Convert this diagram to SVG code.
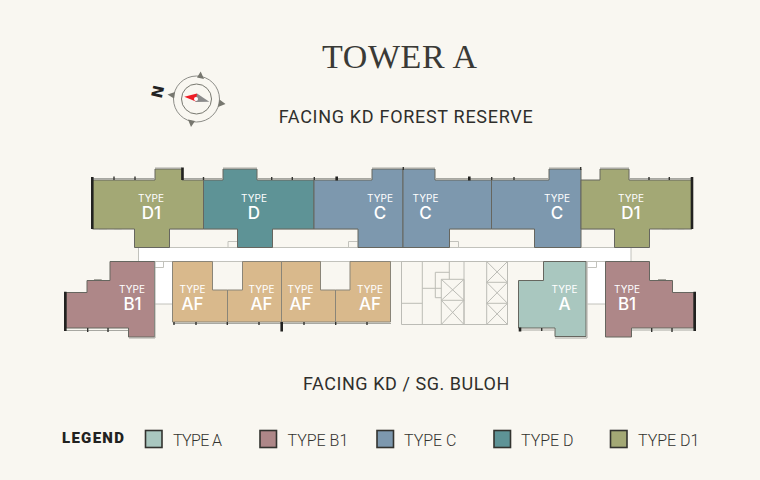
<svg xmlns="http://www.w3.org/2000/svg" width="760" height="480" viewBox="0 0 760 480">
<style>
.u{stroke:#66665f;stroke-width:1;stroke-linejoin:miter}
.d1{fill:#a3a875}.d{fill:#5e9396}.c{fill:#7d98ae}.b1{fill:#ae8788}.af{fill:#d9b98c;stroke:#8a8578}.a{fill:#a9c7bf}
.s{font-family:Inter,"Open Sans",sans-serif;fill:#fff;text-anchor:middle;font-weight:400;font-size:10px}
.l{font-family:Inter,"Open Sans",sans-serif;fill:#fff;text-anchor:middle;font-weight:500;font-size:17px}
.f{font-family:Roboto,"Liberation Sans",sans-serif;fill:#2f2f2c;font-size:18px;letter-spacing:.7px;text-anchor:middle}
.k{font-family:Roboto,"Liberation Sans",sans-serif;fill:#33332f;font-size:16px;font-weight:300}
.sw{stroke:#33332f;stroke-width:1.6}
.g{fill:none;stroke:#c2c2bc;stroke-width:1}
.w{fill:none;stroke:#a8a8a2;stroke-width:1}
.t{fill:none;stroke:#333330;stroke-width:1.4}
.T{fill:none;stroke:#222220;stroke-width:2.6}
.m{fill:none;stroke:#a8a8a0;stroke-width:1.2}
.x{fill:none;stroke:#bcbcb6;stroke-width:1}
</style>
<rect width="760" height="480" fill="#f9f7f1"/>
<text x="399.500" y="67.500" text-anchor="middle" font-family="'Liberation Serif',serif" font-size="34" fill="#3a3a36" textLength="155" lengthAdjust="spacing">TOWER A</text>
<text class="f" x="406" y="123">FACING KD FOREST RESERVE</text>
<text class="f" x="406.500" y="390" textLength="207">FACING KD / SG. BULOH</text>

<g id="compass">
<circle cx="196.500" cy="99" r="23" fill="none" stroke="#8d8d88" stroke-width="1"/>
<circle cx="196.500" cy="99" r="15" fill="none" stroke="#77776f" stroke-width="1"/>
<path d="M200.700 71.500 L204 79 L197 77.500Z M167.500 94.500 L175 92 L174 98.500Z M225.500 104 L218 107 L219.500 99.500Z M191 127 L188 119.500 L195 121Z" fill="#77776f"/>
<path d="M184.300 96.700 L197 93.500 L197 102Z" fill="#ee1c25"/>
<path d="M209.300 101.700 L197 93.500 L195.500 102Z" fill="#8b8b8b"/>
<circle cx="196" cy="99" r="2" fill="#fff"/>
<text x="0" y="0" transform="translate(163 93) rotate(-77)" text-anchor="middle" font-family="'DejaVu Sans',sans-serif" font-weight="700" font-size="15" fill="#222">N</text>
</g>

<g id="common-areas">
<path d="M138.500 247.500H631V261.500H138.500Z" fill="#fff" stroke="#c2c2bc"/>
<path d="M154.500 262H172V304H154.500Z M587.500 262H605V304H587.500Z" fill="#fff"/>
<path class="g" d="M169.500 229H237.500M169.500 247.500H237.500M272.500 229H357.500M272.500 247.500H357.500M449.500 229H534.500M449.500 247.500H534.500M581 229H614.500M581 247.500H614.500M154.500 304H172M587.500 304H605"/>
<path class="g" d="M228 247.500V241.500H237.500M348.500 247.500V241.500H357.500M449.500 241.500H458.500V247.500M155 267.500H163.500V262M587.500 267.500H596.500V262"/>
</g>

<g id="core">
<path class="x" d="M401.500 261.500H507.500V324.500H401.500Z M422.300 261.500V324.500M464 261.500V324.500M486.700 261.500V324.500M449.300 261.500V279.300M441.300 279.300H464V324.500H441.300Z M441.300 300.300H464M435.300 272.300H449.300M435.300 272.300V297.700H441.300M422.300 288.300H441.300M401.500 303.300H422.300M486.700 282.300H507.500M486.700 303.300H507.500M441.300 279.300L464 300.300M464 279.300L441.300 300.300M441.300 300.300L464 324.500M464 300.300L441.300 324.500M486.700 261.500L507.500 282.300M507.500 261.500L486.700 282.300M486.700 282.300L507.500 303.300M507.500 282.300L486.700 303.300M486.700 303.300L507.500 324.500M507.500 303.300L486.700 324.500"/>
</g>

<g id="unit-d1-left">
<path class="u d1" d="M92.500 180H155V169H182V180H203.500V229H169.500V247.500H134.500V229H92.500Z"/>
<text class="s" x="151" y="202">TYPE</text><text class="l" x="151.500" y="218.500">D1</text>
</g>
<g id="unit-d">
<path class="u d" d="M203.500 180H223V169H257V180H314V229H272.500V247.500H237.500V229H203.500Z"/>
<text class="s" x="254" y="202">TYPE</text><text class="l" x="254" y="218.500">D</text>
</g>
<g id="unit-c1">
<path class="u c" d="M314 180H372V169H403V247.500H358V229H314Z"/>
<text class="s" x="380" y="202">TYPE</text><text class="l" x="380" y="218.500">C</text>
</g>
<g id="unit-c2">
<path class="u c" d="M403 169H435V180H491.500V229H449.500V247.500H403Z"/>
<text class="s" x="425.500" y="202">TYPE</text><text class="l" x="425.500" y="218.500">C</text>
</g>
<g id="unit-c3">
<path class="u c" d="M491.500 180H549V169H581V247.500H534.500V229H491.500Z"/>
<text class="s" x="557" y="202">TYPE</text><text class="l" x="557" y="218.500">C</text>
</g>
<g id="unit-d1-right">
<path class="u d1" d="M581 180H600V169H629V180H692V229H649.500V247.500H614.500V229H581Z"/>
<text class="s" x="631" y="202">TYPE</text><text class="l" x="631" y="218.500">D1</text>
</g>
<g id="unit-b1-left">
<path class="u b1" d="M110 261.500H154.500V337H128.500V328H66V292.500H87V280.500H110Z"/>
<text class="s" x="132" y="293">TYPE</text><text class="l" x="132.500" y="309.500">B1</text>
</g>
<g id="unit-af1">
<path class="u af" d="M172.500 261.500H212.500V290H227.500V322H172.500Z"/>
<text class="s" x="192.500" y="293">TYPE</text><text class="l" x="192.500" y="309.500">AF</text>
</g>
<g id="unit-af2">
<path class="u af" d="M242.500 261.500H281.500V322H227.500V290H242.500Z"/>
<text class="s" x="261.500" y="293">TYPE</text><text class="l" x="261.500" y="309.500">AF</text>
</g>
<g id="unit-af3">
<path class="u af" d="M281.500 261.500H320.500V290H335.500V322H281.500Z"/>
<text class="s" x="300.500" y="293">TYPE</text><text class="l" x="300.500" y="309.500">AF</text>
</g>
<g id="unit-af4">
<path class="u af" d="M350 261.500H390.500V322H335.500V290H350Z"/>
<text class="s" x="370" y="293">TYPE</text><text class="l" x="370" y="309.500">AF</text>
</g>
<g id="unit-a">
<path class="u a" d="M543.500 261.500H586V336.500H555V328H518.500V280.500H543.500Z"/>
<text class="s" x="564.500" y="293">TYPE</text><text class="l" x="564.500" y="309.500">A</text>
</g>
<g id="unit-b1-right">
<path class="u b1" d="M605.500 261.500H649.500V280.500H672.500V292.500H694V328H631.500V337H605.500Z"/>
<text class="s" x="627" y="293">TYPE</text><text class="l" x="627" y="309.500">B1</text>
</g>

<g id="connectors">
<path class="w" d="M92 178.500H155M182 178.500H223M257 178.500H372M435 178.500H549M629 178.500H691M173 323.500H391M66 330.500H128M519 330H555M632 330H694"/>
<path class="w" d="M155 168H182M223 168H257M372 168H435M549 168H581M600 168H629M555 338H587V262M129 338H155V262"/>
<path class="t" d="M114 176.500V180M135 176.500V180M203.500 177V180M271.700 177V180M292.300 177V180M314.300 177V180M491.700 177V180M514 177V180M649 177V180M669.300 177V180M403.300 167V170M580.700 167V170M87.700 328V332M108 328V332M174 322V325M196 322V325M227.300 322V325M259 322V325M304 322V325M335.700 322V325M367 322V325M541.700 328V331M651.700 328V332M672 328V332"/>
<path class="T" d="M92.300 177V229M182.500 167.500V180M336.700 176.500V180.500M469.300 176.500V180.500M692 177V229M65.300 291.700V331M281.700 322V331.500M520 327.500V331.500M694.700 291.700V331" />
<path class="m" d="M99 229.500H107M114.300 229.500H121.700M662 229.500H669M677.700 229.500H684.300M94 279.500H101.700M658 279.500H666"/>
</g>

<g id="legend">
<text x="62" y="443" font-family="Roboto,'Liberation Sans',sans-serif" font-weight="900" font-size="15" letter-spacing="1.300" fill="#222220">LEGEND</text>
<rect class="sw a" x="145.500" y="430.500" width="16.500" height="17"/><text class="k" x="173" y="446" textLength="49">TYPE A</text>
<rect class="sw b1" x="260" y="430.500" width="16.500" height="17"/><text class="k" x="287.500" y="446">TYPE B1</text>
<rect class="sw c" x="377" y="430.500" width="16.500" height="17"/><text class="k" x="404" y="446">TYPE C</text>
<rect class="sw d" x="494" y="430.500" width="16.500" height="17"/><text class="k" x="521" y="446">TYPE D</text>
<rect class="sw d1" x="610.500" y="430.500" width="16.500" height="17"/><text class="k" x="638" y="446">TYPE D1</text>
</g>
</svg>
